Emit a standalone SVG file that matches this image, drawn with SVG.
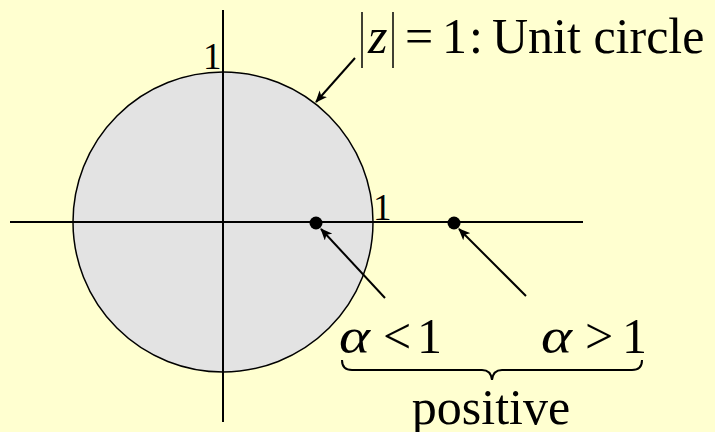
<svg xmlns="http://www.w3.org/2000/svg" width="715" height="432" viewBox="0 0 715 432">
<style>
text{font-family:'Liberation Serif','Times New Roman',Times,serif;fill:#000;font-size:50px}
.i{font-style:italic}
.s{font-size:37px}
.ln{stroke:#000;stroke-width:2;fill:none}
</style>
<defs>
<marker id="ah" markerWidth="12" markerHeight="10" refX="11" refY="5" orient="auto" markerUnits="userSpaceOnUse">
<path d="M0,0 L12,5 L0,10 L3,5 Z" fill="#000"/>
</marker>
</defs>
<rect width="715" height="432" fill="#FFFFD0"/>
<g id="circle">
<circle cx="223" cy="222" r="150" fill="#E3E3E3" stroke="#000" stroke-width="1.5"/>
</g>
<g id="axes">
<line class="ln" x1="223" y1="10" x2="223" y2="422"/>
<line class="ln" x1="10" y1="222" x2="583" y2="222"/>
<text class="s" x="203" y="69">1</text>
<text class="s" x="373" y="220">1</text>
</g>
<g id="dot1"><circle cx="316" cy="223" r="6.5" fill="#000"/></g>
<g id="dot2"><circle cx="454" cy="223" r="6.5" fill="#000"/></g>
<g id="connectors">
<line class="ln" x1="355" y1="58" x2="316" y2="102" stroke-width="1.5" marker-end="url(#ah)"/>
<line class="ln" x1="385" y1="298" x2="321" y2="229" stroke-width="1.5" marker-end="url(#ah)"/>
<line class="ln" x1="526" y1="296" x2="459" y2="229" stroke-width="1.5" marker-end="url(#ah)"/>
</g>
<g id="label-unit">
<line x1="362" y1="12" x2="362" y2="68" stroke="#000" stroke-width="1.5"/>
<line x1="393" y1="12" x2="393" y2="68" stroke="#000" stroke-width="1.5"/>
<text class="i" x="368" y="53">z</text>
<text x="405" y="53">=</text>
<text x="442" y="53">1</text>
<text x="469" y="53">:</text>
<text x="492" y="53">Unit circle</text>
</g>
<g id="label-alpha">
<text class="i" x="339" y="353" textLength="31" lengthAdjust="spacingAndGlyphs">α</text>
<text x="383" y="353">&lt;</text>
<text x="417" y="353">1</text>
<text class="i" x="541" y="353" textLength="31" lengthAdjust="spacingAndGlyphs">α</text>
<text x="585" y="353">&gt;</text>
<text x="622" y="353">1</text>
<path class="ln" stroke-width="1.5" d="M342,360 Q342,370 352,370 L482,370 Q491,370 492,380 Q493,370 502,370 L632,370 Q642,370 642,360"/>
<text x="491" y="424" text-anchor="middle">positive</text>
</g>
</svg>
